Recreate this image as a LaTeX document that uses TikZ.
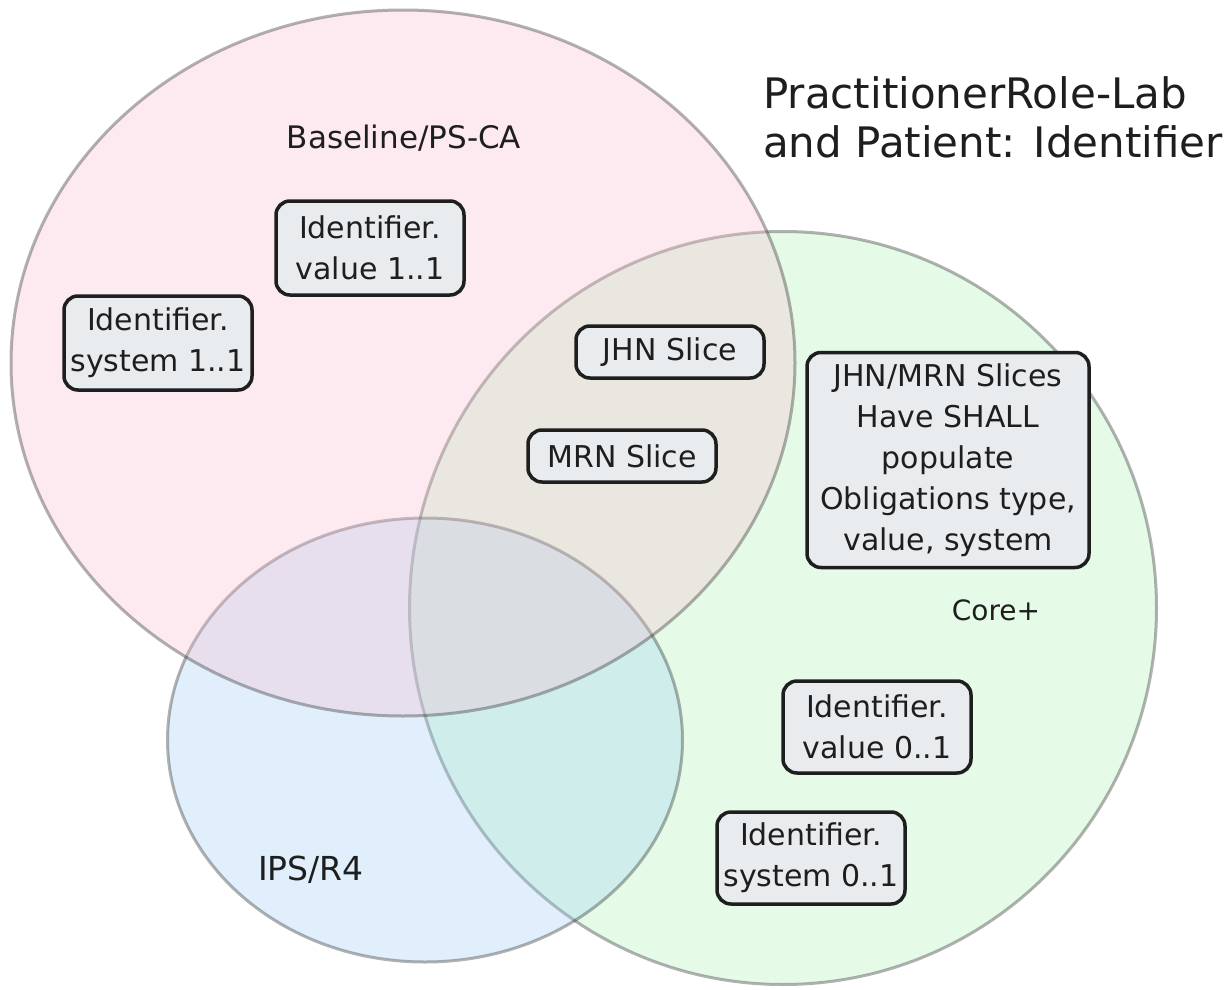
\documentclass[tikz,border=0pt]{standalone}
\usepackage{fontspec}
\setmainfont{DejaVu Sans}
\usetikzlibrary{shapes.geometric}
\definecolor{ink}{HTML}{1E1E1E}
\definecolor{boxfill}{HTML}{E9ECEF}
\definecolor{pinkf}{RGB}{248,188,208}
\definecolor{greenf}{RGB}{172,242,181}
\definecolor{bluef}{RGB}{155,205,245}
\begin{document}
\begin{tikzpicture}[x=1pt,y=-1pt,
  setshape/.style={ellipse, draw=ink, draw opacity=0.34, line width=3pt, fill opacity=0.3, inner sep=0pt},
  card/.style={draw=ink, line width=3.5pt, fill=boxfill, rounded corners=14pt, align=center, inner sep=0pt,
    font=\fontsize{30}{41}\selectfont, text=ink, minimum width=188pt, minimum height=94pt},
  lbl/.style={text=ink, font=\fontsize{28}{34}\selectfont, inner sep=0pt}]
\useasboundingbox (0,0) rectangle (1232,990);
\fill[white] (0,0) rectangle (1232,990);
% sets (drawn green, blue, then pink on top)
\node[setshape, fill=greenf, minimum width=747pt, minimum height=753pt] (core) at (783,608) {};
\node[setshape, fill=bluef, minimum width=515pt, minimum height=444pt] (ips) at (425,740) {};
\node[setshape, fill=pinkf, minimum width=784pt, minimum height=706pt] (base) at (403,363) {};
% labels
\node[lbl, font=\fontsize{31}{34}\selectfont] (lbase) at (404,138) {Baseline/PS-CA};
\node[lbl] (lcore) at (996,610) {Core+};
\node[lbl, font=\fontsize{33}{34}\selectfont] (lips) at (311,870) {IPS/R4};
\node[text=ink, anchor=west, align=left, inner sep=0pt, font=\fontsize{42}{49}\selectfont] (title) at (763,117)
  {PractitionerRole-Lab\\and Patient: Identifier};
% cards
\node[card] (v11) at (370,248) {Identifier.\\value 1..1};
\node[card] (s11) at (158,343) {Identifier.\\system 1..1};
\node[card, minimum height=52pt] (jhn) at (670,352) {JHN Slice};
\node[card, minimum height=52pt] (mrn) at (622,456) {MRN Slice};
\node[card, minimum width=282pt, minimum height=215pt] (obl) at (948,460)
  {JHN/MRN Slices\\Have SHALL\\populate\\Obligations type,\\value, system};
\node[card, minimum height=92pt] (v01) at (877,727) {Identifier.\\value 0..1};
\node[card, minimum height=92pt] (s01) at (811,858) {Identifier.\\system 0..1};
\end{tikzpicture}
\end{document}
